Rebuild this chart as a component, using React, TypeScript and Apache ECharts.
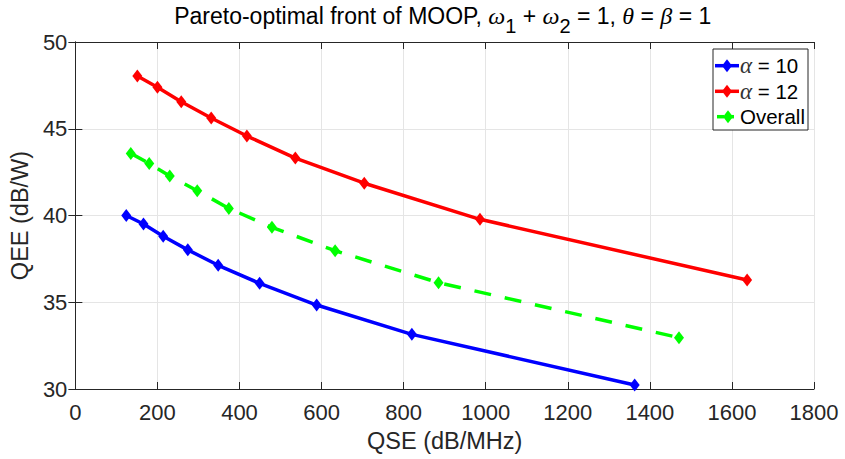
import React, { useEffect, useRef } from "react";
import * as echarts from "echarts";

const qseAlpha10 = [124, 166, 214, 274, 348, 449, 588, 820, 1363];
const qeeAlpha10 = [40.0, 39.51, 38.8, 38.02, 37.13, 36.09, 34.84, 33.15, 30.23];
const qseAlpha12 = [151, 200, 258, 331, 418, 536, 704, 986, 1637];
const qeeAlpha12 = [48.04, 47.39, 46.56, 45.62, 44.58, 43.31, 41.86, 39.78, 36.28];
const qseOverall = [135, 180, 230, 297, 374, 479, 633, 885, 1471];
const qeeOverall = [43.58, 43.0, 42.28, 41.43, 40.41, 39.32, 37.97, 36.13, 32.96];
const xTicks = [0, 200, 400, 600, 800, 1000, 1200, 1400, 1600, 1800];
const yTicks = [30, 35, 40, 45, 50];
const seriesNames = ["α = 10", "α = 12", "Overall"];
const seriesColors = ["#0000ff", "#ff0000", "#00ff00"];

const FONT = "'Liberation Sans', Arial, Helvetica, sans-serif";
const SERIF = "'Liberation Serif', 'DejaVu Serif', serif";
const AX = "#262626";

const GRID_LEFT = 71.5;
const GRID_RIGHT = 31;
const W = 845;

function pairs(xs: number[], ys: number[]) {
  return xs.map((x, i) => [x, ys[i]]);
}

function legendGraphic() {
  const boxX = 713, boxY = 49, boxW = 95, boxH = 81;
  const rowY = [65.7, 91.3, 116.7];
  const els: any[] = [
    {
      type: "rect",
      shape: { x: boxX, y: boxY, width: boxW, height: boxH },
      style: { fill: "#fff", stroke: AX, lineWidth: 1 },
      z: 20,
    },
  ];
  seriesNames.forEach((name, i) => {
    const y = rowY[i];
    const c = seriesColors[i];
    const dashed = i === 2;
    if (dashed) {
      els.push({ type: "line", shape: { x1: 717, y1: y, x2: 724, y2: y }, style: { stroke: c, lineWidth: 3.5 }, z: 21 });
      els.push({ type: "line", shape: { x1: 730, y1: y, x2: 734, y2: y }, style: { stroke: c, lineWidth: 3.5 }, z: 21 });
    } else {
      els.push({ type: "line", shape: { x1: 715, y1: y, x2: 739, y2: y }, style: { stroke: c, lineWidth: 3.5 }, z: 21 });
    }
    const mx = dashed ? 728 : 727;
    els.push({
      type: "polygon",
      shape: { points: [[mx, y - 6.5], [mx + 5, y], [mx, y + 6.5], [mx - 5, y]] },
      style: { fill: c },
      z: 22,
    });
    const text = name.startsWith("α") ? "{a|α}{t|" + name.slice(1) + "}" : "{t|" + name + "}";
    els.push({
      type: "text",
      x: 740,
      y,
      z: 22,
      style: {
        text,
        align: "left",
        verticalAlign: "middle",
        fontFamily: FONT,
        fontSize: 20.5,
        fill: "#000",
        rich: {
          a: { fontFamily: SERIF, fontStyle: "italic", fontSize: 23, fill: "#333" },
          t: { fontFamily: FONT, fontSize: 20.5, fill: "#000" },
        },
      },
    });
  });
  return els;
}

export default function App() {
  const ref = useRef<HTMLDivElement>(null);
  useEffect(() => {
    if (!ref.current) return;
    const chart = echarts.init(ref.current, undefined, { renderer: "svg" });
    const baseAxis = {
      axisLine: { show: true, lineStyle: { color: AX, width: 1 } },
      axisTick: { show: true, inside: true, length: 7, lineStyle: { color: AX } },
    };
    const mkSeries = (name: string, xs: number[], ys: number[], color: string, dashed: boolean) => ({
      name,
      type: "line",
      data: pairs(xs, ys),
      symbol: "diamond",
      symbolSize: [10, 13],
      showSymbol: true,
      itemStyle: { color },
      lineStyle: { color, width: 3.5, type: dashed ? [17, 14] : "solid" },
      z: 5,
    });
    const plotCenter = (GRID_LEFT + (W - GRID_RIGHT)) / 2;
    chart.setOption({
      animation: false,
      backgroundColor: "#ffffff",
      graphic: [
        {
          type: "text",
          x: plotCenter,
          y: 16,
          z: 10,
          style: {
            text: "Pareto-optimal front of MOOP, {g|ω}{s|1} + {g|ω}{s|2} = 1, {g|θ} = {g|β} = 1",
            align: "center",
            verticalAlign: "middle",
            fontFamily: FONT,
            fontSize: 23,
            fill: "#000",
            rich: {
              g: { fontFamily: SERIF, fontStyle: "italic", fontSize: 24, fill: "#000" },
              s: { fontFamily: FONT, fontSize: 20, fill: "#000", padding: [20, 0, 0, 0] },
            },
          },
        },
        ...legendGraphic(),
      ],
      legend: { show: false, data: seriesNames },
      grid: { left: GRID_LEFT, right: GRID_RIGHT, top: 42, bottom: 70, containLabel: false },
      xAxis: [
        {
          ...baseAxis,
          type: "value",
          min: xTicks[0],
          max: xTicks[xTicks.length - 1],
          interval: xTicks[1] - xTicks[0],
          name: "QSE (dB/MHz)",
          nameLocation: "middle",
          nameGap: 40,
          nameTextStyle: { fontFamily: FONT, fontSize: 23.5, color: AX },
          axisLabel: { fontFamily: FONT, fontSize: 22, color: AX, margin: 12, formatter: (v: number) => String(v) },
          splitLine: { show: true, lineStyle: { color: "#e5e5e5", width: 1 } },
        },
        {
          ...baseAxis,
          type: "value",
          position: "top",
          min: xTicks[0],
          max: xTicks[xTicks.length - 1],
          interval: xTicks[1] - xTicks[0],
          axisLabel: { show: false },
          splitLine: { show: false },
        },
      ],
      yAxis: [
        {
          ...baseAxis,
          type: "value",
          min: yTicks[0],
          max: yTicks[yTicks.length - 1],
          interval: yTicks[1] - yTicks[0],
          name: "QEE (dB/W)",
          nameLocation: "middle",
          nameGap: 37,
          nameTextStyle: { fontFamily: FONT, fontSize: 23.5, color: AX },
          axisLabel: { fontFamily: FONT, fontSize: 22, color: AX, margin: 8, formatter: (v: number) => String(v) },
          splitLine: { show: true, lineStyle: { color: "#e5e5e5", width: 1 } },
        },
        {
          ...baseAxis,
          type: "value",
          position: "right",
          min: yTicks[0],
          max: yTicks[yTicks.length - 1],
          interval: yTicks[1] - yTicks[0],
          axisLabel: { show: false },
          splitLine: { show: false },
        },
      ],
      series: [
        mkSeries(seriesNames[0], qseAlpha10, qeeAlpha10, seriesColors[0], false),
        mkSeries(seriesNames[1], qseAlpha12, qeeAlpha12, seriesColors[1], false),
        mkSeries(seriesNames[2], qseOverall, qeeOverall, seriesColors[2], true),
      ],
    });
    return () => chart.dispose();
  }, []);
  return <div ref={ref} style={{ width: 845, height: 459, position: "absolute", left: 0, top: 0 }} />;
}
